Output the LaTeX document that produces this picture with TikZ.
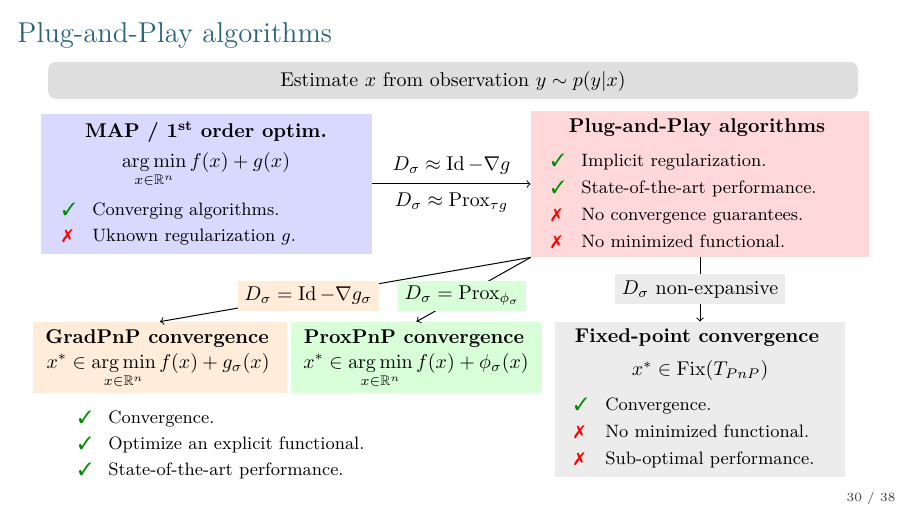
\documentclass[tikz,border=0pt]{standalone}
\usepackage{amsmath,amssymb}
\usepackage{pifont}
\usetikzlibrary{fit}
\definecolor{titlecol}{RGB}{42,100,120}
\newcommand{\cmk}{\textcolor{green!55!black}{\ding{51}}}
\newcommand{\xmk}{\textcolor{red}{\ding{55}}}
\newcommand{\itemfont}{\fontsize{9}{11}\selectfont}
\begin{document}
\begin{tikzpicture}[x=0.50193pt,y=-0.50193pt,
  box/.style={inner sep=0pt, draw=none},
  lab/.style={inner sep=0pt, minimum height=30*0.50193pt, font=\fontsize{10}{12}\selectfont},
  head/.style={anchor=base, font=\fontsize{10}{12}\selectfont\bfseries},
  txt/.style={anchor=base west, inner sep=0pt, font=\itemfont},
  mk/.style={anchor=base west, inner sep=0pt, font=\itemfont},
  mth/.style={anchor=base, inner sep=0pt, font=\fontsize{10}{12}\selectfont},
  conn/.style={->, line width=0.5pt}]
\useasboundingbox (0,0) rectangle (907,510);

% title
\node[anchor=base west, inner sep=0pt, text=titlecol, font=\fontsize{14.4}{17}\selectfont] (title) at (17,42.5) {Plug-and-Play algorithms};

% banner
\node[box, fill=gray!25, rounded corners=4pt, fit={(48,62) (858,99)}] (banner) {};
\node[anchor=base, inner sep=0pt, font=\fontsize{10}{12}\selectfont] (bannertext) at (453,86.5) {Estimate $x$ from observation $y \sim p(y|x)$};

% boxes
\node[box, fill=blue!15, fit={(41,114) (372,254)}] (map) {};
\node[box, fill=red!15, fit={(531,111) (869,257)}] (pnp) {};
\node[box, fill=orange!15, fit={(33,322) (287,393)}] (grad) {};
\node[box, fill=green!15, fit={(291,322) (542,393)}] (prox) {};
\node[box, fill=gray!15, fit={(555,322) (845,477)}] (fixed) {};

% MAP content
\node[head] (maph) at (206,138) {MAP / 1\textsuperscript{st} order optim.};
\node[mth] (mapm) at (206,168) {$\displaystyle\operatorname*{arg\,min}_{x\in\mathbb{R}^n} f(x)+g(x)$};
\node[mk] (mapc1) at (62,216) {\cmk};
\node[txt] (mapt1) at (92,216) {Converging algorithms.};
\node[mk] (mapc2) at (62,242) {\xmk};
\node[txt] (mapt2) at (92,242) {Uknown regularization $g$.};

% PnP content
\node[head] (pnph) at (697,133) {Plug-and-Play algorithms};
\node[mk] (pc1) at (551,167) {\cmk};
\node[txt] (pt1) at (581,167) {Implicit regularization.};
\node[mk] (pc2) at (551,194) {\cmk};
\node[txt] (pt2) at (581,194) {State-of-the-art performance.};
\node[mk] (pc3) at (551,221) {\xmk};
\node[txt] (pt3) at (581,221) {No convergence guarantees.};
\node[mk] (pc4) at (551,248) {\xmk};
\node[txt] (pt4) at (581,248) {No minimized functional.};

% GradPnP content
\node[head] (gradh) at (157,344) {GradPnP convergence};
\node[mth] (gradm) at (158,369) {$\displaystyle x^*\in\operatorname*{arg\,min}_{x\in\mathbb{R}^n} f(x)+g_\sigma(x)$};
\node[mk] (gc1) at (78,423) {\cmk};
\node[txt] (gt1) at (108,423) {Convergence.};
\node[mk] (gc2) at (78,449) {\cmk};
\node[txt] (gt2) at (108,449) {Optimize an explicit functional.};
\node[mk] (gc3) at (78,475) {\cmk};
\node[txt] (gt3) at (108,475) {State-of-the-art performance.};

% ProxPnP content
\node[head] (proxh) at (414,344) {ProxPnP convergence};
\node[mth] (proxm) at (416,369) {$\displaystyle x^*\in\operatorname*{arg\,min}_{x\in\mathbb{R}^n} f(x)+\phi_\sigma(x)$};

% Fixed content
\node[head] (fixh) at (697,343) {Fixed-point convergence};
\node[mth] (fixm) at (700,376) {$x^*\in\mathrm{Fix}(T_{PnP})$};
\node[mk] (fc1) at (574,411) {\cmk};
\node[txt] (ft1) at (605,411) {Convergence.};
\node[mk] (fc2) at (574,437) {\xmk};
\node[txt] (ft2) at (605,437) {No minimized functional.};
\node[mk] (fc3) at (574,464) {\xmk};
\node[txt] (ft3) at (605,464) {Sub-optimal performance.};

% connectors
\draw[conn] (map) -- node[above=1pt, font=\fontsize{10}{12}\selectfont] (lab1) {$D_\sigma \approx \operatorname{Id}-\nabla g$}
  node[below=1pt, font=\fontsize{10}{12}\selectfont] (lab2) {$D_\sigma \approx \operatorname{Prox}_{\tau g}$} (pnp);
\draw[conn] (pnp.south west) -- node[pos=0.6, lab, fill=orange!15, minimum width=141*0.50193pt] (lab3) {$D_\sigma = \operatorname{Id}-\nabla g_\sigma$} (grad.north);
\draw[conn] (pnp.south west) -- node[pos=0.6, lab, fill=green!15, minimum width=128*0.50193pt] (lab4) {$D_\sigma = \operatorname{Prox}_{\phi_\sigma}$} (prox.north);
\draw[conn] (pnp) -- node[lab, fill=gray!15, minimum width=170*0.50193pt] (lab5) {$D_\sigma$ non-expansive} (fixed);

% page number
\node[anchor=base, inner sep=0pt, text=black!75, font=\fontsize{6.3}{8}\selectfont] (page) at (871,501) {30 / 38};
\end{tikzpicture}
\end{document}
